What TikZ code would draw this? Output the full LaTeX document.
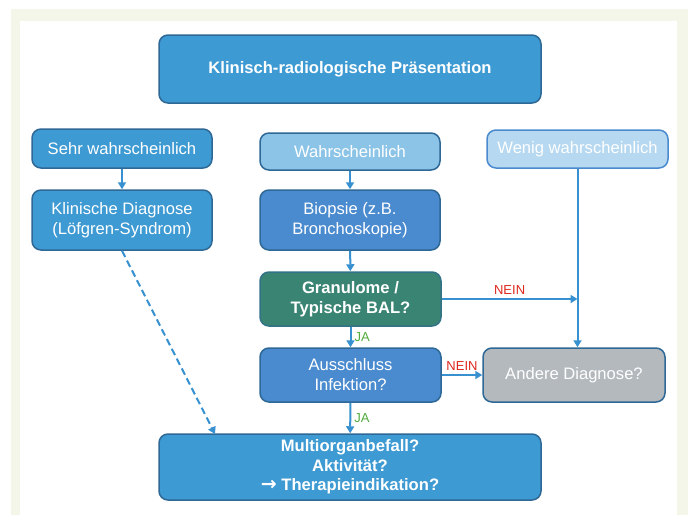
\documentclass[tikz,border=0pt]{standalone}
\usepackage{fontspec}
\setmainfont{Liberation Sans}
\newfontfamily\symfont{DejaVu Sans}
\usetikzlibrary{arrows.meta}
\definecolor{rahmen}{RGB}{244,246,234}
\definecolor{randblau}{RGB}{46,104,150}
\definecolor{mittelblau}{RGB}{62,154,210}
\definecolor{hellblau}{RGB}{140,196,232}
\definecolor{blassblau}{RGB}{182,216,240}
\definecolor{koenigblau}{RGB}{74,138,206}
\definecolor{tuerkis}{RGB}{58,132,115}
\definecolor{grau}{RGB}{180,185,190}
\definecolor{pfeilblau}{RGB}{55,145,208}
\definecolor{jagruen}{RGB}{80,170,60}
\definecolor{neinrot}{RGB}{222,40,30}
\begin{document}
\begin{tikzpicture}[x=1pt,y=-1pt,line join=round,
	box/.style={draw=randblau,line width=1.5pt,rounded corners=9pt,text=white,align=center,inner sep=0pt,font=\fontsize{16.6}{20}\selectfont},
	pfeil/.style={draw=pfeilblau,line width=2pt,-{Triangle[length=7pt,width=8pt]}},
	ja/.style={text=jagruen,font=\fontsize{13}{15}\selectfont,inner sep=3pt},
	nein/.style={text=neinrot,font=\fontsize{13}{15}\selectfont,inner sep=4pt}]
	\useasboundingbox (0,0) rectangle (694,515);
	\fill[rahmen] (11,9) rectangle (688,515);
	\fill[white] (20,21) rectangle (677,515);
	% obere Reihe
	\node[box,fill=mittelblau,minimum width=382pt,minimum height=68pt] (praes) at (350,69) {\bfseries Klinisch-radiologische Präsentation};
	\node[box,fill=mittelblau,minimum width=180pt,minimum height=39pt] (sehr) at (122,148.5) {Sehr wahrscheinlich};
	\node[box,fill=hellblau,minimum width=180pt,minimum height=37pt] (wahr) at (350,151.5) {Wahrscheinlich};
	\node[box,fill=blassblau,draw=koenigblau,minimum width=181pt,minimum height=38pt] (wenig) at (577.5,149) {Wenig wahrscheinlich};
	% Mitte
	\node[box,fill=mittelblau,minimum width=180pt,minimum height=60pt] (klin) at (122,220) {Klinische Diagnose\\(Löfgren-Syndrom)};
	\node[box,fill=koenigblau,minimum width=180pt,minimum height=60pt] (biop) at (350,220) {Biopsie (z.B.\\Bronchoskopie)};
	\node[box,fill=tuerkis,draw=randblau!60!tuerkis,minimum width=181pt,minimum height=54pt] (gran) at (350.5,299) {\bfseries Granulome /\\\bfseries Typische BAL?};
	\node[box,fill=koenigblau,minimum width=181pt,minimum height=54pt] (aussch) at (350.5,375) {Ausschluss\\Infektion?};
	\node[box,fill=grau,minimum width=182pt,minimum height=54pt] (andere) at (574,375) {Andere Diagnose?};
	% unten
	\node[box,fill=mittelblau,minimum width=382pt,minimum height=66pt,font=\fontsize{16.6}{19.5}\selectfont\bfseries] (multi) at (350,467) {Multiorganbefall?\\Aktivität?\\{\symfont\fontsize{19}{19.5}\selectfont →} Therapieindikation?};
	\coordinate (knick) at (wenig |- gran);
	\coordinate (strichende) at (215,434);
	% Pfeile
	\draw[pfeil] (sehr) -- (klin);
	\draw[pfeil] (wahr) -- (biop);
	\draw[pfeil] (biop) -- (gran);
	\draw[pfeil] (gran) -- node[ja,right]{JA} (aussch);
	\draw[pfeil] (aussch) -- node[ja,right]{JA} (multi);
	\draw[pfeil] (gran) -- node[nein,above]{NEIN} (knick);
	\draw[pfeil] (aussch) -- node[nein,above]{NEIN} (andere);
	\draw[pfeil] (wenig) -- (wenig |- andere.north);
	\draw[pfeil,dash pattern=on 7pt off 4pt] (klin.south) -- (strichende);
\end{tikzpicture}
\end{document}
